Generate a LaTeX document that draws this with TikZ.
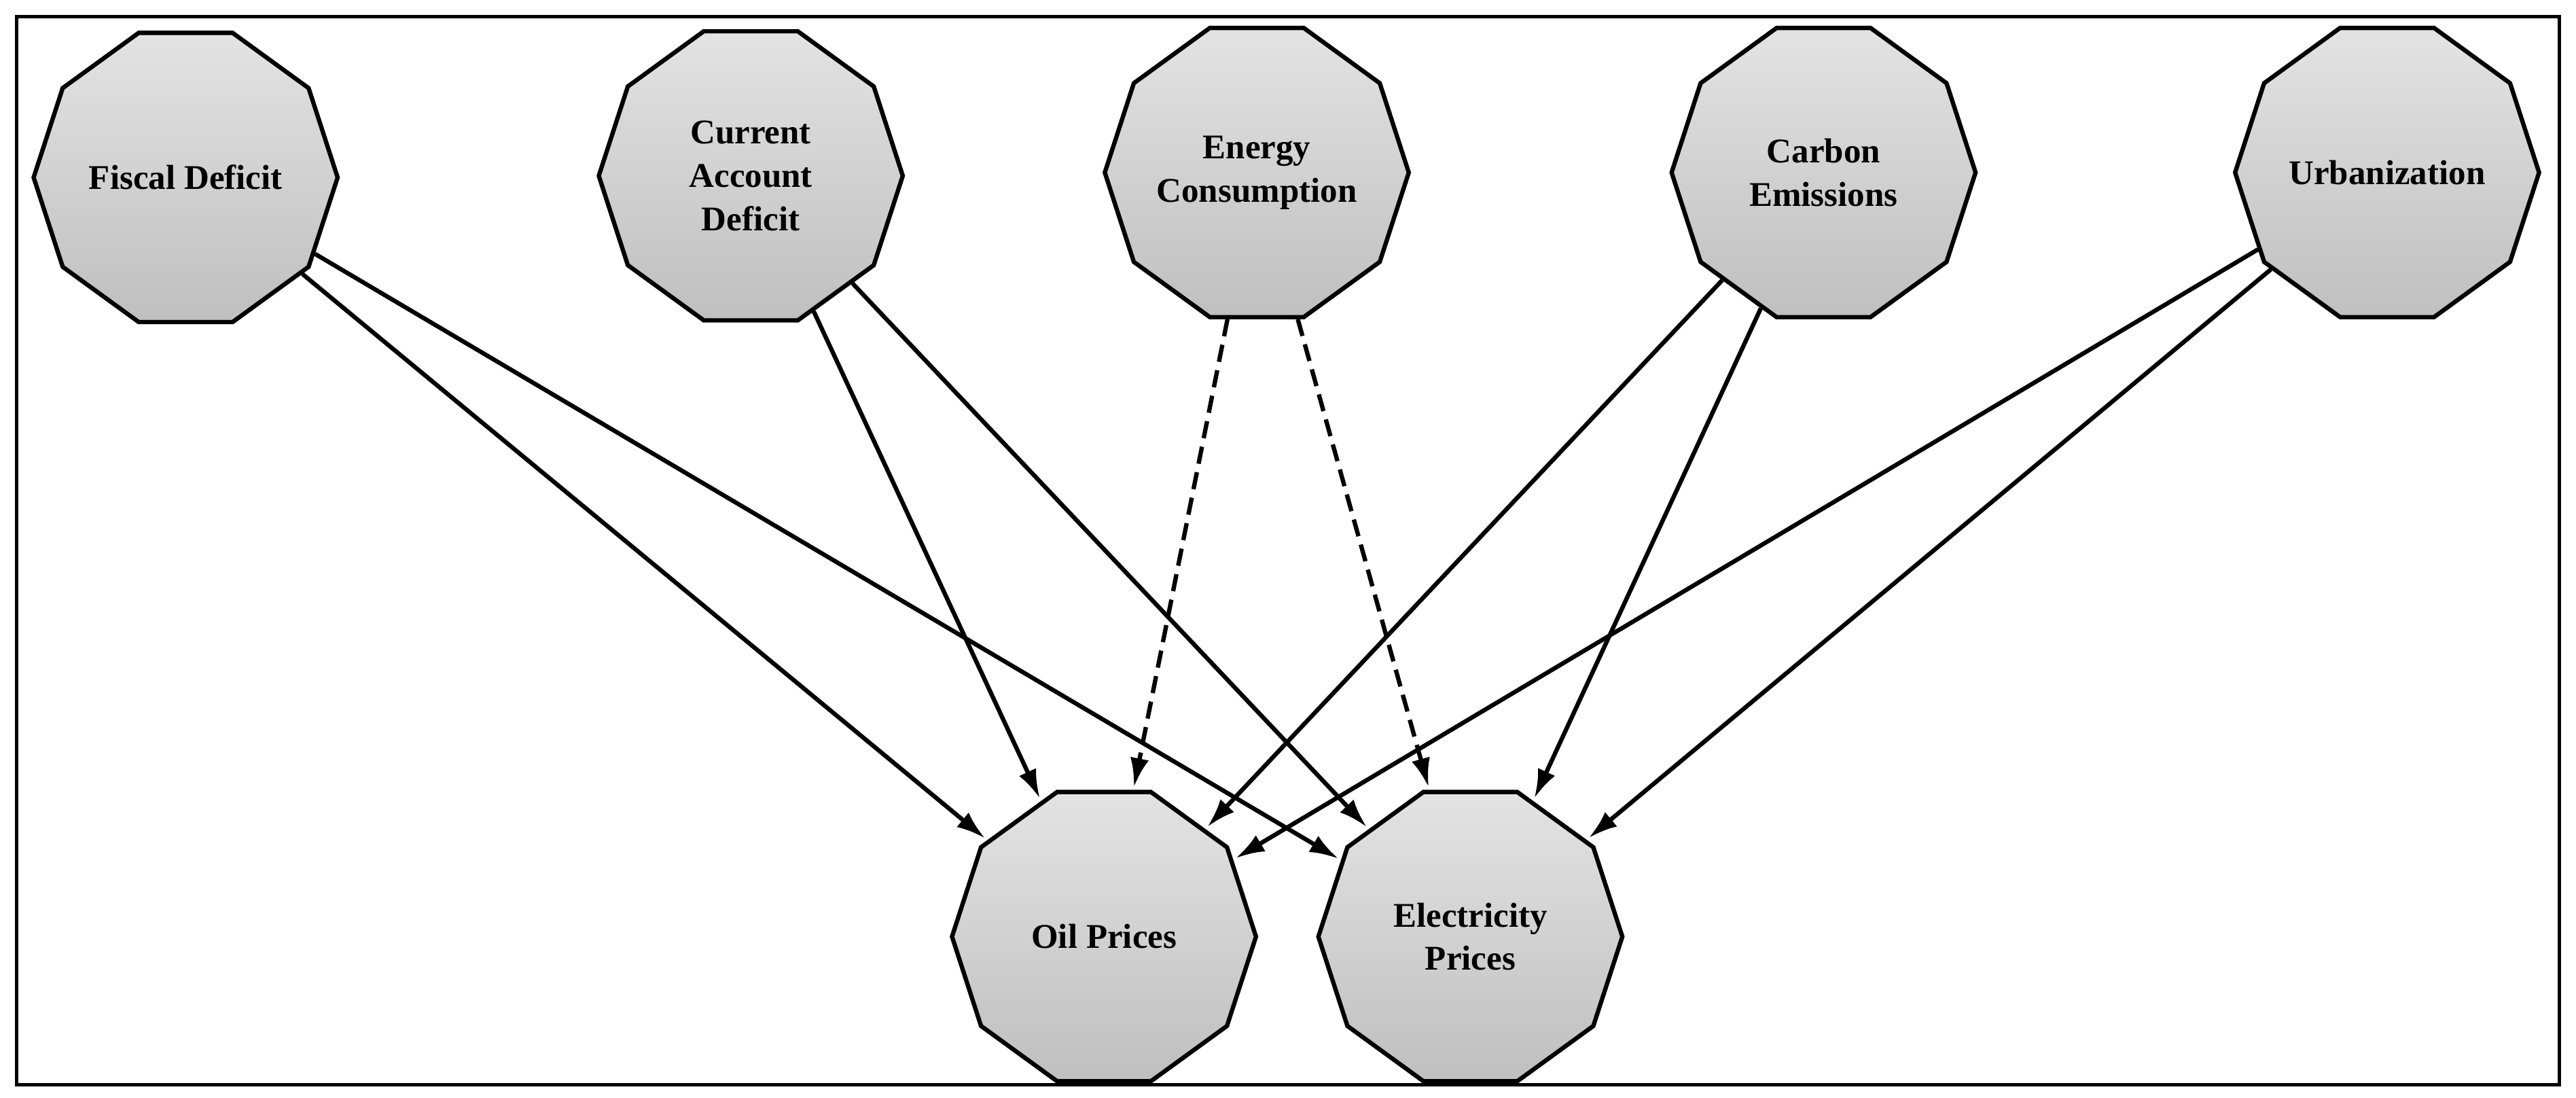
\documentclass[tikz,border=0pt]{standalone}
\usepackage{fontspec}
\setmainfont{Liberation Serif}
\usetikzlibrary{positioning,shapes.geometric,arrows}
\tikzset{
  factor/.style={regular polygon,regular polygon sides=10,minimum size=7.4cm,
    draw=black,line width=3pt,top color=gray!22,bottom color=gray!50,
    align=center,font=\fontsize{24}{30}\selectfont\bfseries,inner sep=0pt},
  link/.style={-{latex[length=14pt,width=10pt]},line width=3pt,shorten >=2pt},
  guess/.style={dash pattern=on 12pt off 6pt}
}
\usetikzlibrary{arrows.meta}
\tikzset{link/.style={-{Latex[length=20pt,width=13pt]},line width=3pt,shorten >=2pt}}
\begin{document}
\begin{tikzpicture}[x=0.04cm,y=-0.04cm]
		\useasboundingbox (0,0) rectangle (1568,668);
		\draw[line width=2.4pt] (10,10) rectangle (1558,660);

		% the drivers
		\node[factor] (fiscal) at (113,108) {Fiscal Deficit};
		\node[factor] (current) at (457,107) {Current\\Account\\Deficit};
		\node[factor] (energy) at (765,105) {Energy\\Consumption};
		\node[factor] (carbon) at (1110,105) {Carbon\\Emissions};
		\node[factor] (urban) at (1453,105) {Urbanization};

		% the prices
		\node[factor] (oil) at (672,570) {Oil Prices};
		\node[factor] (elec) at (895,570) {Electricity\\Prices};

		\draw[link] (fiscal) -- (oil);
		\draw[link] (fiscal) -- (elec);
		\draw[link] (current) -- (oil);
		\draw[link] (current) -- (elec);
		\draw[link,guess] (energy) -- (oil);
		\draw[link,guess] (energy) -- (elec);
		\draw[link] (carbon) -- (oil);
		\draw[link] (carbon) -- (elec);
		\draw[link] (urban) -- (oil);
		\draw[link] (urban) -- (elec);

	\end{tikzpicture}
\end{document}
